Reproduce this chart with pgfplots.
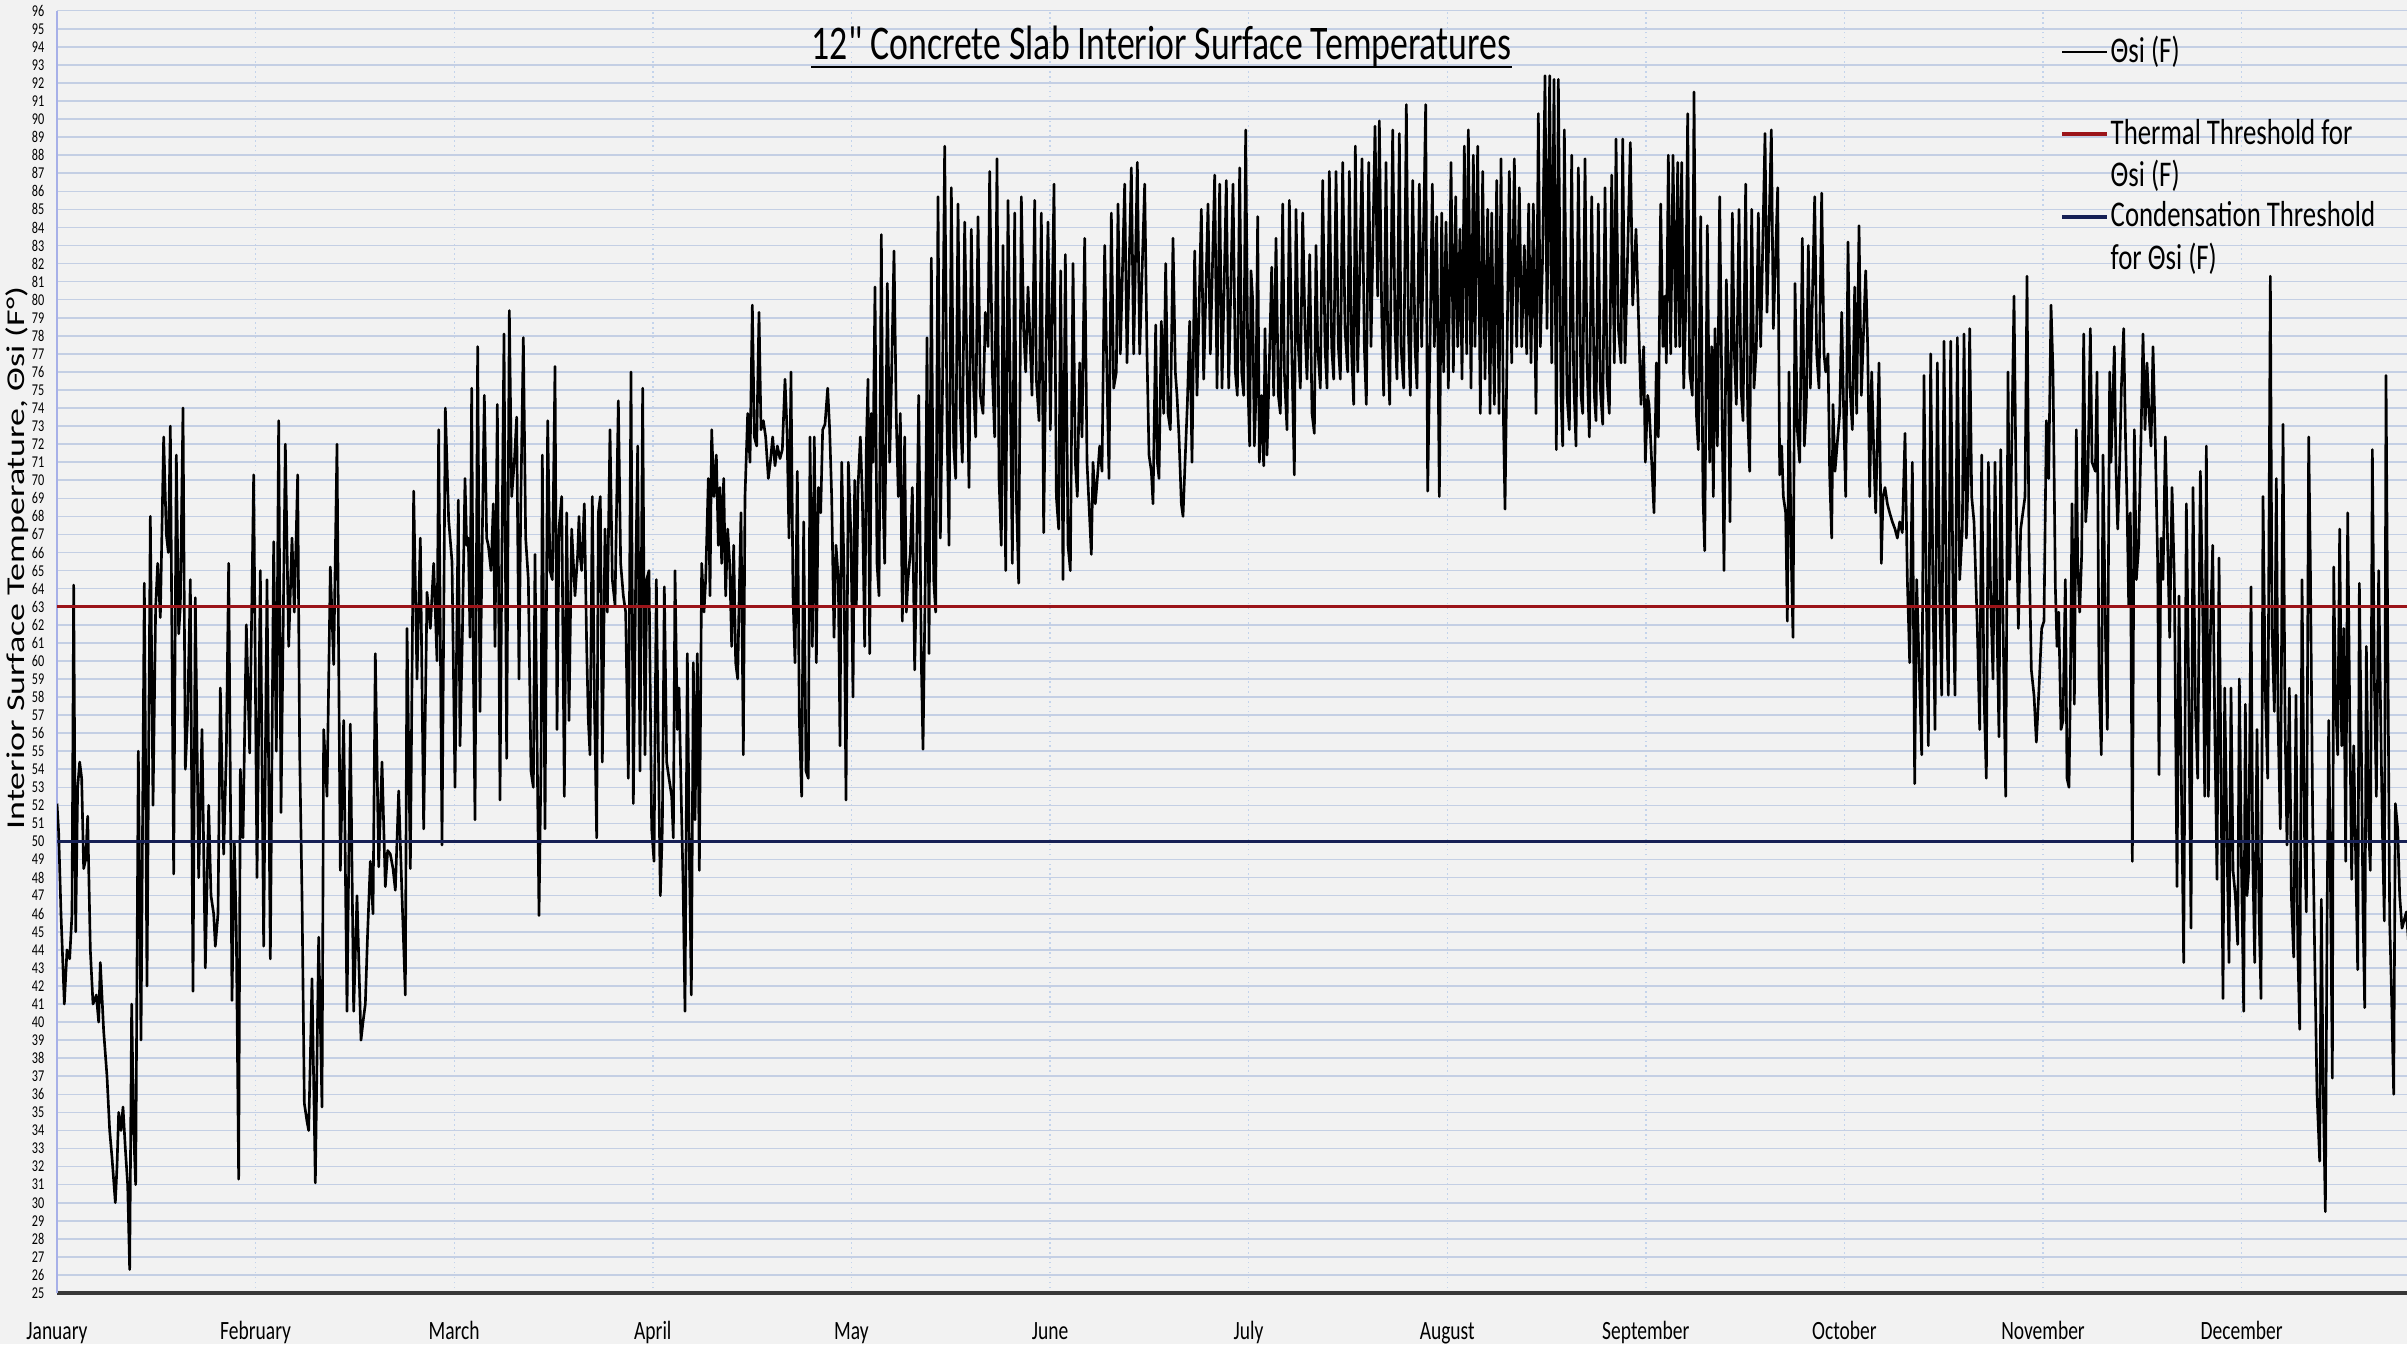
\documentclass[border=0pt]{standalone}
\usepackage{fontspec}
\usepackage{pgfplots}
\pgfplotsset{compat=1.18}
\setmainfont{Carlito}
\newfontfamily\calS{Carlito}[FakeStretch=0.74]
\newfontfamily\calY{Carlito}[FakeStretch=1.4]
\definecolor{bg}{RGB}{242,242,242}
\definecolor{gridh}{RGB}{196,207,228}
\definecolor{gridv}{RGB}{196,212,236}
\definecolor{thr}{RGB}{155,20,25}
\definecolor{cond}{RGB}{22,32,85}
\begin{document}
\begin{tikzpicture}
\path[use as bounding box, fill=bg] (0,0) rectangle (240.7mm,134.4mm);
\begin{axis}[
  at={(5.7mm,5.1mm)}, anchor=south west,
  scale only axis, width=235mm, height=128.23mm,
  xmin=0, xmax=7050, ymin=25, ymax=96,
  axis x line*=bottom, axis y line*=left,
  x axis line style={draw=black!78, line width=0.9pt, -},
  y axis line style={draw=gridh!85!blue, line width=0.5pt, -},
  major tick length=0pt,
  xtick={0,595.8,1191.6,1787.4,2383.2,2979,3574.8,4170.6,4766.4,5362.2,5958,6553.8},
  xticklabels={January,February,March,April,May,June,July,August,September,October,November,December},
  ytick={25,26,...,96},
  xmajorgrids, ymajorgrids,
  x grid style={draw=gridv, line width=0.4pt, densely dotted},
  y grid style={draw=gridh, line width=0.45pt},
  xticklabel style={font=\calS\fontsize{7.5}{8}\selectfont, anchor=base, inner sep=0pt, yshift=-4.65mm},
  yticklabel style={font=\calS\fontsize{4.7}{5}\selectfont, anchor=east, inner sep=0pt, xshift=-1.2mm},
  /pgf/number format/assume math mode=true,
  clip=true,
]
\addplot[black, line width=0.75pt, line join=round] coordinates {
(0,52.1)(5,50.5)(12,46)(22,41)(30,44)(38,43.5)(45,46)(50,64.2)(56,45)(62,53)(68,54.4)(74,53.5)(80,48.5)(86,49)(92,51.4)(100,44)(108,41)(118,41.5)(125,40)(130,43.3)(140,39.5)(150,37)(158,34)(165,32.5)(175,30)(180,32)(185,35)(192,34)(198,35.3)(205,33)(212,31)(218,26.3)(224,41)(230,34)(236,31)(244,55)(252,39)(262,64.3)(270,42)(280,68)(288,52)(296,63)(302,65.4)(310,62.4)(320,72.4)(328,67)(334,66)(340,73)(350,48.2)(358,71.4)(365,61.5)(370,63)(378,74)(385,54)(392,57)(400,64.5)(408,41.7)(415,63.5)(425,48)(435,56.2)(445,43)(455,52)(462,47)(470,46)(475,44.2)(483,46)(490,58.5)(500,49.3)(508,55)(515,65.4)(525,41.2)(532,50)(538,45)(545,31.3)(550,54)(558,50.2)(568,62)(578,54.9)(590,70.3)(600,48)(610,65)(620,44.2)(630,64.5)(640,43.5)(650,66.6)(658,55)(665,73.3)(672,51.6)(685,72)(695,60.8)(705,66.8)(712,62.7)(722,70.3)(728,55)(735,47)(742,35.5)(750,34.5)(755,34)(760,38)(765,42.4)(775,31.1)(785,44.7)(795,35.3)(800,56.2)(810,52.5)(820,65.2)(830,59.8)(840,72)(850,48.4)(860,56.7)(870,40.6)(880,56.5)(890,40.6)(900,47)(912,39)(918,40)(925,41)(932,45)(940,48.9)(948,46)(955,60.4)(965,48.6)(975,54.4)(985,47.5)(992,49.5)(1000,49.3)(1008,48.5)(1015,47.3)(1025,52.8)(1035,47)(1045,41.5)(1050,61.8)(1060,48.5)(1070,69.4)(1080,59)(1090,66.8)(1100,50.7)(1110,63.8)(1120,61.8)(1130,65.4)(1140,60)(1145,72.8)(1155,49.8)(1165,74)(1175,67.8)(1185,65.5)
(1194,53)(1204,68.9)(1209,55.3)(1216,61.3)(1224,70.1)(1229,66.4)(1234,66.8)(1239,61.3)(1244,75.1)(1249,59.9)(1254,51.2)(1262,77.4)(1269,57.2)(1274,64.5)(1282,74.7)(1289,66.8)(1294,66.4)(1302,65)(1309,68.7)(1314,60.8)(1321,74.2)(1329,52.3)(1334,64.5)(1341,78.1)(1349,54.6)(1357,79.4)(1364,69.1)(1372,71)(1379,73.5)(1386,59)(1391,68.2)(1399,77.9)(1406,66.8)(1414,64.5)(1422,53.9)(1429,53)(1434,65.9)(1440,55.8)(1446,45.9)(1452,54.4)(1456,71.4)(1464,50.7)(1472,73.3)(1479,65)(1486,64.5)(1494,76.3)(1500,56.2)(1506,67.3)(1514,69.1)(1522,52.5)(1529,68.2)(1536,56.7)(1544,67.3)(1554,63.6)(1562,65.9)(1566,68)(1569,65.9)(1574,65)(1582,68.7)(1589,60.8)(1594,56.7)(1599,54.8)(1606,69.1)(1612,58.1)(1619,50.2)(1624,68.2)(1630,69.1)(1636,54.4)(1644,67.3)(1651,62.7)(1659,72.8)(1666,64.5)(1674,63.1)(1684,74.4)(1691,65.4)(1699,63.6)(1706,62.7)(1714,53.5)(1722,76)(1729,52.1)(1736,64.5)(1742,71.9)(1749,53.9)(1757,75.1)(1764,54.8)(1769,64.5)(1776,65)(1784,50.7)(1791,48.9)(1798,64.5)(1804,55.3)(1810,47)(1816,50.7)(1822,64.1)(1829,54.4)(1836,53.5)(1844,52.5)(1849,50.2)(1854,65)(1861,56.2)(1866,58.5)(1872,53)(1878,47.9)(1884,40.6)(1891,60.4)(1897,49.3)(1903,41.5)(1909,59.9)(1914,51.2)(1921,60.4)(1927,48.4)(1934,65.4)(1941,62.7)(1946,64.5)(1954,70.1)(1959,63.6)(1964,72.8)(1971,69.1)(1978,71.4)(1984,66.4)(1989,69.6)(1994,65.4)(2000,70.1)(2006,63.6)(2012,67.3)(2018,65.4)(2024,60.8)(2030,66.4)(2036,59.9)(2042,59)(2046,63.1)(2052,68.2)(2059,54.8)(2064,69.1)(2072,73.7)(2079,71)(2086,79.7)(2092,72.4)(2099,71.9)(2106,79.3)(2112,72.8)(2119,73.3)(2126,72.4)(2134,70.1)(2140,71)(2147,72.4)(2154,70.8)(2161,71.9)(2169,71.2)(2176,71.7)(2184,75.6)(2190,72.8)(2196,66.8)(2202,76)(2208,63.6)(2214,59.9)(2221,70.5)(2227,56.7)(2234,52.5)(2240,67.7)(2247,53.9)(2254,53.5)(2259,72.4)(2266,60.8)(2272,72.4)(2278,59.9)(2284,69.6)(2291,68.2)(2297,72.8)(2304,73.1)(2312,75.1)(2318,72.8)(2324,69.1)(2331,61.3)(2337,66.4)(2344,64.5)(2349,55.3)(2354,71)(2361,65)(2367,52.3)(2374,71)(2382,66.8)
(2388,58)(2393,70)(2398,63)(2403,69.6)(2410,72.4)(2416,69.1)(2423,60.8)(2428,71.9)(2433,75.6)(2438,60.4)(2443,73.7)(2448,71)(2454,80.7)(2460,65.4)(2466,63.6)(2473,83.6)(2478,69.1)(2483,65.4)(2491,80.9)(2498,71)(2503,75.1)(2511,82.7)(2518,73.3)(2524,69.1)(2530,73.7)(2536,62.2)(2543,72.4)(2548,62.7)(2553,64.5)(2560,66)(2566,69.6)(2573,59.5)(2578,64.5)(2585,74.7)(2593,59.9)(2598,55.1)(2605,64.8)(2610,77.9)(2616,60.4)(2623,82.3)(2630,64.5)(2636,62.7)(2643,85.7)(2650,66.8)(2656,74.2)(2663,88.5)(2670,73.3)(2676,66.4)(2683,86.2)(2690,71.9)(2696,70.1)(2703,85.3)(2710,73.7)(2716,71)(2723,84.3)(2730,76)(2736,69.6)(2743,83.9)(2750,75.1)(2756,72.4)(2763,84.6)(2770,74.7)(2778,73.7)(2785,79.3)(2793,77.4)(2798,87.1)(2806,76)(2813,72.4)(2820,87.8)(2826,70.1)(2833,66.4)(2838,83)(2846,65)(2853,85.5)(2860,74.7)(2866,65.4)(2873,84.8)(2878,69.1)(2885,64.3)(2893,85.7)(2900,78.4)(2906,76)(2913,80.7)(2918,78.4)(2925,74.7)(2933,85.5)(2938,75.6)(2946,73.3)(2953,84.8)(2960,67.1)(2966,76)(2973,84.3)(2980,72.8)(2991,86.4)(2998,69.1)(3005,67.3)(3011,81.6)(3018,64.5)(3025,82.5)(3033,66.4)(3040,65)(3048,82)(3055,71)(3061,69.1)(3068,76.5)(3075,72.4)(3083,83.4)(3090,71)(3103,65.9)(3108,71)(3115,68.7)(3121,70.1)(3128,71.9)(3135,70.5)(3143,83)(3150,75.6)(3156,70.1)(3163,84.8)(3170,75.1)(3178,76)(3183,85.3)(3190,77)(3203,86.4)(3210,76.5)(3223,87.3)(3230,77)(3241,87.6)(3248,77)(3263,86.4)(3270,77)(3276,71.4)(3283,70.5)(3288,68.7)(3296,78.6)(3301,71)(3306,70.1)(3313,78.8)(3320,73.7)(3326,82)(3333,73.7)(3340,72.8)(3348,83.4)(3355,76)(3360,74.7)(3366,72.4)(3373,68.7)(3378,68)(3385,71.4)(3391,74.2)(3398,78.8)(3405,71)(3413,82.7)(3420,74.7)(3433,85)(3440,75.6)(3453,85.3)(3460,77)(3473,86.9)(3480,75.1)(3488,86.4)(3495,75.1)(3508,86.6)(3515,75.1)(3528,86.4)(3535,76)(3541,74.7)(3548,87.3)(3554,76)(3560,74.7)(3566,89.4)(3573,75.1)(3578,71.9)
(3582,81.6)(3587,80)(3592,71.9)(3597,74.7)(3602,84.6)(3607,71)(3614,74.7)(3620,70.8)(3624,78.4)(3630,71.4)(3637,76.5)(3644,81.8)(3650,74.7)(3657,83.4)(3664,74.7)(3670,73.7)(3677,85.3)(3682,76)(3690,72.8)(3697,85.5)(3704,77.4)(3712,70.3)(3717,85)(3724,77.4)(3730,75.1)(3737,84.8)(3744,78.4)(3750,75.6)(3758,82.5)(3765,73.7)(3772,72.6)(3777,83)(3782,77.4)(3790,75.1)(3797,86.6)(3804,77.4)(3810,75.1)(3817,87.1)(3824,77.4)(3830,75.6)(3837,87.1)(3844,77.4)(3850,75.6)(3857,87.6)(3864,78.4)(3872,76)(3877,87.1)(3884,77)(3890,74.2)(3895,88.5)(3902,76)(3915,87.8)(3922,77.4)(3928,74.2)(3935,87.6)(3942,77.4)(3954,89.6)(3962,80.2)(3967,89.9)(3974,79.3)(3980,74.7)(3987,87.6)(3992,77.9)(3998,74.2)(4007,89.4)(4014,78.4)(4020,75.6)(4027,89.2)(4032,77.4)(4040,75.1)(4048,90.8)(4054,78.4)(4060,74.7)(4067,86.6)(4074,77.4)(4080,75.1)(4087,86.4)(4094,77.4)(4106,90.8)(4112,69.4)(4119,77.4)(4126,86.4)(4132,77.4)(4139,84.6)(4147,69.1)(4154,84.8)(4160,76)(4167,84.3)(4174,75.1)(4182,87.6)(4189,76)(4196,85.7)(4202,77.4)(4209,83.9)(4215,75.6)(4222,88.5)(4229,77)(4234,89.4)(4242,75.1)(4249,88)(4254,77.4)(4262,88.5)(4270,73.7)(4277,87.1)(4284,75.6)(4292,85)(4299,73.7)(4304,84.8)(4312,74.2)(4319,86.6)(4326,73.7)(4332,87.8)(4339,73.7)(4344,68.4)(4357,87.1)(4364,76.5)(4372,87.8)(4379,77.4)(4387,86.2)(4394,77.4)(4402,83)(4409,77)(4415,85.3)(4422,76.5)(4429,85.3)(4437,73.7)(4444,90.3)(4450,77.4)(4457,82.5)(4464,92.4)(4470,78.4)(4478,92.4)(4484,76.5)(4491,92.2)(4498,71.7)(4504,92.2)(4512,74.7)(4517,71.9)(4522,89.4)(4530,74.7)(4537,72.8)(4544,88)(4550,75.6)(4557,71.9)(4564,87.3)(4572,74.7)(4577,73.7)(4584,87.8)(4590,76.5)(4597,72.4)(4604,85.7)(4612,74.7)(4617,73.3)(4624,85.3)(4630,75.1)(4637,73.1)(4644,86.2)(4650,75.6)(4657,73.7)(4664,86.9)(4672,76.5)(4677,88.9)(4684,78.4)(4692,76.5)(4697,88.9)(4704,76.5)(4720,88.7)(4727,79.7)(4737,83.9)(4744,79.3)(4752,74.2)(4760,77.4)(4765,71)(4772,74.7)
(4776,74.2)(4784,71)(4791,68.2)(4798,76.5)(4804,72.4)(4811,85.3)(4818,77.4)(4824,80.2)(4828,76.5)(4834,88)(4841,77)(4848,88)(4856,77.4)(4862,87.6)(4868,77.4)(4874,87.6)(4880,75.1)(4886,79.3)(4892,90.3)(4898,76)(4906,74.7)(4911,91.5)(4918,73.7)(4924,71.7)(4931,84.6)(4938,69.1)(4943,66.1)(4951,84.1)(4958,71)(4964,77.4)(4969,69.1)(4974,78.4)(4981,71.9)(4988,85.7)(4994,75.6)(5001,65)(5008,81.1)(5014,76)(5019,67.7)(5026,84.8)(5032,77)(5038,74.2)(5046,85)(5052,75.1)(5058,73.3)(5066,86.4)(5072,73.7)(5078,70.5)(5084,85)(5091,75.1)(5098,77.4)(5104,84.8)(5111,77.4)(5124,89.2)(5130,79.3)(5143,89.4)(5149,78.4)(5162,86.2)(5168,70.3)(5174,71.9)(5179,69.1)(5186,68.2)(5191,62.2)(5196,76)(5202,66.4)(5208,61.3)(5214,80.9)(5221,72.8)(5228,71)(5236,83.4)(5242,71.9)(5248,74.2)(5254,83)(5260,75.1)(5273,85.7)(5279,77)(5286,75.1)(5294,85.9)(5301,77)(5306,76)(5313,77)(5318,70.3)(5324,66.8)(5328,74.2)(5334,70.5)(5348,73.7)(5354,79.3)(5360,73.7)(5366,69.1)(5373,83.2)(5379,75.1)(5386,72.8)(5393,80.7)(5399,73.7)(5406,84.1)(5413,74.7)(5426,81.6)(5432,77.4)(5438,69.1)(5444,76)(5451,71)(5456,68.2)(5466,76.5)(5473,65.4)(5478,69.1)(5484,69.6)(5491,68.7)(5498,68.2)(5506,67.7)(5514,67.3)(5521,66.8)(5528,67.7)(5536,67.1)(5544,72.6)(5551,64.5)(5558,59.9)(5566,71)(5573,53.2)(5579,64.5)(5586,59.9)(5594,54.8)(5601,75.8)(5608,63.6)(5614,55.3)(5621,77)(5628,63.6)(5634,56.2)(5641,76.5)(5648,63.6)(5654,58.1)(5661,77.7)(5668,63.1)(5674,58.1)(5681,77.7)(5688,63.6)(5694,58.1)(5701,77.9)(5708,64.5)(5716,67.3)(5721,78.1)(5728,66.8)(5734,70.5)(5738,78.4)(5744,69.1)(5751,67.7)(5761,61.8)(5768,56.2)(5774,71.4)(5781,58.1)(5788,53.5)(5794,71)(5801,63.6)(5808,59)(5814,71)(5820,61.8)(5826,55.8)(5831,71.7)(5838,62.2)(5846,52.5)(5853,76)(5858,64.5)(5871,80.2)(5878,68.2)(5884,61.8)(5891,67.3)(5904,69.1)(5910,81.3)(5916,66.4)(5923,59.5)(5931,58.1)(5938,55.5)(5946,58.5)(5954,61.8)(5961,62.2)(5968,73.3)
(5975,70.1)(5982,79.7)(5988,76)(5995,64.1)(6000,60.8)(6005,62.7)(6012,56.2)(6018,56.7)(6025,64.5)(6030,53.5)(6036,53)(6040,58.5)(6045,68.7)(6052,57.6)(6058,72.8)(6062,65.4)(6068,62.7)(6074,65.9)(6080,78.1)(6086,67.7)(6092,69.6)(6100,78.4)(6105,71)(6115,70.5)(6120,76)(6126,59)(6133,54.8)(6138,71.4)(6145,61.8)(6151,56.2)(6158,76)(6162,71)(6172,77.4)(6177,70.5)(6182,67.3)(6188,71)(6193,75.1)(6200,78.4)(6205,72.8)(6210,68.7)(6215,63.1)(6220,68.2)(6226,48.9)(6232,72.8)(6238,64.5)(6245,66.4)(6252,72.4)(6258,78.1)(6264,72.8)(6270,76.5)(6276,73.7)(6282,71.9)(6288,77.4)(6295,71.9)(6302,65.4)(6306,53.7)(6312,66.8)(6318,64.5)(6325,72.4)(6332,66.4)(6338,61.3)(6345,69.6)(6352,64.5)(6360,47.5)(6366,63.6)(6380,43.3)(6388,68.7)(6395,58.5)(6402,45.2)(6408,69.6)(6415,57.6)(6422,53.5)(6430,70.5)(6438,61.8)(6443,52.5)(6448,71.9)(6454,52.5)(6460,61.3)(6467,66.4)(6473,56.7)(6480,47.9)(6486,65.7)(6492,53.5)(6498,41.3)(6503,58.5)(6510,49.8)(6516,43.3)(6522,58.5)(6528,48.4)(6535,47)(6542,44.3)(6547,59)(6554,47.9)(6560,40.6)(6565,57.6)(6570,47)(6575,48.4)(6582,64.1)(6587,49.3)(6593,43.3)(6600,56.2)(6606,46.1)(6612,41.3)(6618,69.1)(6625,58.1)(6632,53.5)(6640,81.3)(6645,61.8)(6652,57.2)(6658,70.1)(6663,56.7)(6670,50.7)(6678,73.1)(6684,56.7)(6690,49.8)(6697,58.5)(6703,47)(6710,43.6)(6717,58.1)(6722,44.3)(6728,39.6)(6735,64.5)(6742,50.7)(6748,46.1)(6755,72.4)(6760,65.4)(6767,51.2)(6773,43.8)(6780,36)(6788,32.3)(6793,46.8)(6798,36.9)(6805,29.5)(6810,45.2)(6815,56.7)(6820,48.4)(6826,36.9)(6830,65.2)(6836,57.6)(6842,54.8)(6848,67.3)(6854,55.3)(6860,61.8)(6866,48.9)(6872,68.2)(6878,57.2)(6884,47.9)(6890,55.3)(6902,42.9)(6907,64.3)(6913,55.3)(6918,46.1)(6923,40.8)(6928,60.8)(6935,50.7)(6940,48.4)(6946,71.7)(6952,59)(6958,52.5)(6965,65)(6970,58.1)(6976,50.7)(6982,45.6)(6987,75.8)(6992,61.8)(6998,45.6)(7003,42)(7010,36)(7015,52.1)(7022,50.7)(7028,47)(7035,45.2)(7048,46.1)(7056,44)
};
\addplot[thr, line width=1pt] coordinates {(0,63) (7050,63)};
\addplot[cond, line width=1pt] coordinates {(0,50) (7050,50)};
\end{axis}
% title
\node[anchor=base, inner sep=0pt, font=\calS\fontsize{13.75}{15}\selectfont] (T) at (116.15mm,128.4mm) {12" Concrete Slab Interior Surface Temperatures};
\draw[line width=0.25mm] ([yshift=-0.7mm]T.base west) -- ([yshift=-0.7mm]T.base east);
% y label
\node[rotate=90, anchor=base, inner sep=0pt, font=\calY\fontsize{7.3}{8}\selectfont] at (2.5mm,78.6mm) {Interior Surface Temperature, Θsi (F°)};
% legend
\draw[black, line width=0.45pt] (206.2mm,129.2mm) -- (210.7mm,129.2mm);
\node[anchor=base west, inner sep=0pt, font=\calS\fontsize{10.3}{12}\selectfont] at (211.0mm,128.1mm) {Θsi (F)};
\draw[thr, line width=1.1pt] (206.2mm,121.0mm) -- (210.7mm,121.0mm);
\node[anchor=base west, inner sep=0pt, font=\calS\fontsize{10.3}{12}\selectfont] at (211.0mm,119.9mm) {Thermal Threshold for};
\node[anchor=base west, inner sep=0pt, font=\calS\fontsize{10.3}{12}\selectfont] at (211.0mm,115.7mm) {Θsi (F)};
\draw[cond, line width=1.1pt] (206.2mm,112.7mm) -- (210.7mm,112.7mm);
\node[anchor=base west, inner sep=0pt, font=\calS\fontsize{10.3}{12}\selectfont] at (211.0mm,111.7mm) {Condensation Threshold};
\node[anchor=base west, inner sep=0pt, font=\calS\fontsize{10.3}{12}\selectfont] at (211.0mm,107.4mm) {for Θsi (F)};
\end{tikzpicture}
\end{document}
